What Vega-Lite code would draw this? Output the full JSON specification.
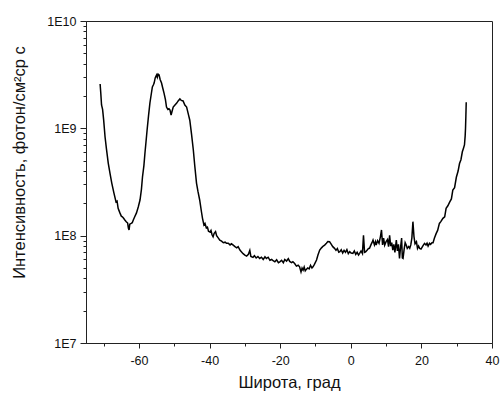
{
  "$schema": "https://vega.github.io/schema/vega-lite/v6.json",
  "width": 406,
  "height": 322,
  "autosize": {"type": "none"},
  "padding": {"left": 86, "top": 21, "right": 8, "bottom": 51},
  "background": "white",
  "config": {
    "view": {"stroke": "#222", "strokeWidth": 1},
    "font": "Liberation Sans",
    "axis": {"domainColor": "#222", "tickColor": "#222", "labelColor": "#111", "titleColor": "#111", "grid": false, "labelFont": "Liberation Sans", "titleFont": "Liberation Sans", "titleFontWeight": "normal", "labelFontSize": 12.5, "titleFontSize": 16.5}
  },
  "data": {"values": [
    {"lat": -71.0, "I": 2.59e9}, {"lat": -70.8, "I": 2.1e9}, {"lat": -70.6, "I": 1.65e9}, {"lat": -70.3, "I": 1.5e9},
    {"lat": -70.0, "I": 1.2e9}, {"lat": -69.6, "I": 8.3e8}, {"lat": -69.2, "I": 6.4e8}, {"lat": -68.7, "I": 4.75e8},
    {"lat": -68.2, "I": 3.8e8}, {"lat": -67.7, "I": 3.09e8}, {"lat": -67.1, "I": 2.5e8}, {"lat": -66.5, "I": 2.06e8},
    {"lat": -66.2, "I": 2.1e8}, {"lat": -65.9, "I": 1.8e8}, {"lat": -65.4, "I": 1.63e8}, {"lat": -65.0, "I": 1.52e8},
    {"lat": -64.7, "I": 1.5e8}, {"lat": -64.4, "I": 1.46e8}, {"lat": -64.0, "I": 1.4e8}, {"lat": -63.6, "I": 1.35e8},
    {"lat": -63.2, "I": 1.31e8}, {"lat": -63.0, "I": 1.18e8}, {"lat": -62.8, "I": 1.13e8}, {"lat": -62.6, "I": 1.28e8},
    {"lat": -62.2, "I": 1.3e8}, {"lat": -61.9, "I": 1.32e8}, {"lat": -61.6, "I": 1.4e8}, {"lat": -61.2, "I": 1.5e8},
    {"lat": -60.7, "I": 1.63e8}, {"lat": -60.2, "I": 1.85e8}, {"lat": -59.7, "I": 2.15e8}, {"lat": -59.3, "I": 2.7e8},
    {"lat": -59.0, "I": 3.52e8}, {"lat": -58.6, "I": 4.5e8}, {"lat": -58.3, "I": 5.89e8}, {"lat": -58.0, "I": 7.5e8},
    {"lat": -57.7, "I": 9.6e8}, {"lat": -57.3, "I": 1.3e9}, {"lat": -56.9, "I": 1.72e9}, {"lat": -56.5, "I": 2.1e9},
    {"lat": -56.2, "I": 2.43e9}, {"lat": -55.9, "I": 2.55e9}, {"lat": -55.7, "I": 2.64e9}, {"lat": -55.4, "I": 2.95e9},
    {"lat": -55.2, "I": 3.05e9}, {"lat": -55.0, "I": 3.14e9}, {"lat": -54.8, "I": 3.0e9}, {"lat": -54.6, "I": 3.2e9},
    {"lat": -54.3, "I": 3.14e9}, {"lat": -54.0, "I": 2.85e9}, {"lat": -53.6, "I": 2.64e9}, {"lat": -53.3, "I": 2.4e9},
    {"lat": -52.9, "I": 2.13e9}, {"lat": -52.5, "I": 1.85e9}, {"lat": -52.2, "I": 1.58e9}, {"lat": -51.8, "I": 1.5e9},
    {"lat": -51.5, "I": 1.52e9}, {"lat": -51.2, "I": 1.48e9}, {"lat": -50.9, "I": 1.33e9}, {"lat": -50.6, "I": 1.45e9},
    {"lat": -50.3, "I": 1.58e9}, {"lat": -49.8, "I": 1.65e9}, {"lat": -49.3, "I": 1.72e9}, {"lat": -48.9, "I": 1.8e9},
    {"lat": -48.4, "I": 1.88e9}, {"lat": -48.0, "I": 1.82e9}, {"lat": -47.5, "I": 1.8e9}, {"lat": -47.0, "I": 1.65e9},
    {"lat": -46.5, "I": 1.58e9}, {"lat": -46.0, "I": 1.35e9}, {"lat": -45.6, "I": 1.19e9}, {"lat": -45.1, "I": 8.8e8},
    {"lat": -44.6, "I": 6.28e8}, {"lat": -44.2, "I": 4.5e8}, {"lat": -43.7, "I": 3.09e8}, {"lat": -43.3, "I": 2.6e8},
    {"lat": -42.8, "I": 2.15e8}, {"lat": -42.6, "I": 1.95e8}, {"lat": -42.3, "I": 1.67e8}, {"lat": -42.0, "I": 1.45e8},
    {"lat": -41.6, "I": 1.26e8}, {"lat": -41.3, "I": 1.3e8}, {"lat": -40.9, "I": 1.18e8}, {"lat": -40.6, "I": 1.2e8},
    {"lat": -40.3, "I": 1.1e8}, {"lat": -39.9, "I": 1.08e8}, {"lat": -39.6, "I": 1.12e8}, {"lat": -39.3, "I": 1.02e8},
    {"lat": -39.0, "I": 9.77e7}, {"lat": -38.7, "I": 1.05e8}, {"lat": -38.3, "I": 1.09e8}, {"lat": -38.0, "I": 1.0e8},
    {"lat": -37.6, "I": 9.6e7}, {"lat": -37.1, "I": 9.1e7}, {"lat": -36.6, "I": 8.9e7}, {"lat": -36.1, "I": 8.6e7},
    {"lat": -35.6, "I": 8.7e7}, {"lat": -35.2, "I": 8.48e7}, {"lat": -34.7, "I": 8.5e7}, {"lat": -34.2, "I": 8.2e7},
    {"lat": -33.8, "I": 8.4e7}, {"lat": -33.3, "I": 8.17e7}, {"lat": -32.8, "I": 7.9e7}, {"lat": -32.3, "I": 7.7e7},
    {"lat": -31.9, "I": 7.9e7}, {"lat": -31.4, "I": 7.34e7}, {"lat": -31.0, "I": 7.1e7}, {"lat": -30.5, "I": 6.8e7},
    {"lat": -30.0, "I": 6.6e7}, {"lat": -29.5, "I": 6.46e7}, {"lat": -29.0, "I": 6.7e7}, {"lat": -28.6, "I": 7.3e7},
    {"lat": -28.3, "I": 6.4e7}, {"lat": -27.7, "I": 6.28e7}, {"lat": -27.3, "I": 6.5e7}, {"lat": -26.8, "I": 6.2e7},
    {"lat": -26.3, "I": 6.4e7}, {"lat": -25.8, "I": 6.14e7}, {"lat": -25.3, "I": 6.3e7}, {"lat": -24.8, "I": 6.0e7},
    {"lat": -24.3, "I": 6.35e7}, {"lat": -23.9, "I": 6.14e7}, {"lat": -23.4, "I": 6.3e7}, {"lat": -22.9, "I": 5.9e7},
    {"lat": -22.4, "I": 6.0e7}, {"lat": -22.0, "I": 5.84e7}, {"lat": -21.5, "I": 5.7e7}, {"lat": -21.0, "I": 5.95e7},
    {"lat": -20.5, "I": 5.6e7}, {"lat": -20.1, "I": 5.71e7}, {"lat": -19.6, "I": 5.9e7}, {"lat": -19.1, "I": 5.6e7},
    {"lat": -18.7, "I": 6.0e7}, {"lat": -18.2, "I": 5.8e7}, {"lat": -17.7, "I": 6.1e7}, {"lat": -17.3, "I": 5.75e7},
    {"lat": -16.8, "I": 5.6e7}, {"lat": -16.4, "I": 5.71e7}, {"lat": -15.9, "I": 5.5e7}, {"lat": -15.4, "I": 5.2e7},
    {"lat": -14.9, "I": 5.3e7}, {"lat": -14.5, "I": 5.13e7}, {"lat": -14.1, "I": 4.6e7}, {"lat": -13.8, "I": 5.0e7},
    {"lat": -13.5, "I": 4.78e7}, {"lat": -13.2, "I": 5.1e7}, {"lat": -12.9, "I": 4.7e7}, {"lat": -12.6, "I": 4.85e7},
    {"lat": -12.2, "I": 5.0e7}, {"lat": -11.8, "I": 4.9e7}, {"lat": -11.4, "I": 5.3e7}, {"lat": -11.0, "I": 5.0e7},
    {"lat": -10.7, "I": 5.13e7}, {"lat": -10.3, "I": 5.4e7}, {"lat": -9.7, "I": 5.93e7}, {"lat": -9.3, "I": 6.6e7},
    {"lat": -8.8, "I": 7.34e7}, {"lat": -8.3, "I": 7.7e7}, {"lat": -7.8, "I": 8.0e7}, {"lat": -7.4, "I": 8.17e7},
    {"lat": -6.9, "I": 8.5e7}, {"lat": -6.5, "I": 8.8e7}, {"lat": -6.0, "I": 8.77e7}, {"lat": -5.6, "I": 8.4e7},
    {"lat": -5.1, "I": 7.9e7}, {"lat": -4.6, "I": 7.62e7}, {"lat": -4.2, "I": 7.3e7}, {"lat": -3.8, "I": 7.6e7},
    {"lat": -3.4, "I": 7.0e7}, {"lat": -3.1, "I": 7.08e7}, {"lat": -2.7, "I": 7.4e7}, {"lat": -2.3, "I": 6.9e7},
    {"lat": -1.9, "I": 7.3e7}, {"lat": -1.5, "I": 7.0e7}, {"lat": -1.1, "I": 7.4e7}, {"lat": -0.7, "I": 6.8e7},
    {"lat": -0.3, "I": 7.1e7}, {"lat": 0.1, "I": 6.9e7}, {"lat": 0.6, "I": 6.84e7}, {"lat": 1.0, "I": 7.2e7},
    {"lat": 1.4, "I": 6.7e7}, {"lat": 1.8, "I": 7.0e7}, {"lat": 2.2, "I": 6.6e7}, {"lat": 2.5, "I": 6.84e7},
    {"lat": 2.9, "I": 7.2e7}, {"lat": 3.3, "I": 6.8e7}, {"lat": 3.6, "I": 1.01e8}, {"lat": 3.9, "I": 7.0e7},
    {"lat": 4.2, "I": 7.08e7}, {"lat": 4.6, "I": 7.3e7}, {"lat": 5.0, "I": 7.6e7}, {"lat": 5.3, "I": 7.62e7},
    {"lat": 5.7, "I": 8.2e7}, {"lat": 6.0, "I": 8.6e7}, {"lat": 6.3, "I": 9.1e7}, {"lat": 6.7, "I": 8.2e7},
    {"lat": 7.0, "I": 8.8e7}, {"lat": 7.2, "I": 8.17e7}, {"lat": 7.6, "I": 9.0e7}, {"lat": 8.0, "I": 8.5e7},
    {"lat": 8.4, "I": 9.8e7}, {"lat": 8.7, "I": 1.13e8}, {"lat": 9.0, "I": 8.2e7}, {"lat": 9.3, "I": 9.5e7},
    {"lat": 9.6, "I": 8.17e7}, {"lat": 10.0, "I": 8.8e7}, {"lat": 10.4, "I": 9.2e7}, {"lat": 10.7, "I": 7.9e7},
    {"lat": 11.0, "I": 1.01e8}, {"lat": 11.3, "I": 8.0e7}, {"lat": 11.6, "I": 8.6e7}, {"lat": 11.9, "I": 7.34e7},
    {"lat": 12.2, "I": 8.3e7}, {"lat": 12.5, "I": 7.0e7}, {"lat": 12.9, "I": 9.1e7}, {"lat": 13.2, "I": 7.2e7},
    {"lat": 13.5, "I": 8.3e7}, {"lat": 13.8, "I": 6.14e7}, {"lat": 14.1, "I": 7.8e7}, {"lat": 14.4, "I": 9.5e7},
    {"lat": 14.6, "I": 6.2e7}, {"lat": 14.8, "I": 6.14e7}, {"lat": 15.1, "I": 7.4e7}, {"lat": 15.4, "I": 8.6e7},
    {"lat": 15.7, "I": 8.17e7}, {"lat": 16.0, "I": 7.6e7}, {"lat": 16.4, "I": 7.9e7}, {"lat": 16.7, "I": 7.62e7},
    {"lat": 17.0, "I": 8.2e7}, {"lat": 17.3, "I": 9.5e7}, {"lat": 17.6, "I": 1.35e8}, {"lat": 17.9, "I": 9.8e7},
    {"lat": 18.2, "I": 8.4e7}, {"lat": 18.6, "I": 8.77e7}, {"lat": 18.9, "I": 7.6e7}, {"lat": 19.2, "I": 8.0e7},
    {"lat": 19.5, "I": 7.62e7}, {"lat": 19.9, "I": 7.5e7}, {"lat": 20.3, "I": 7.9e7}, {"lat": 20.6, "I": 8.2e7},
    {"lat": 20.9, "I": 8.48e7}, {"lat": 21.3, "I": 8.2e7}, {"lat": 21.6, "I": 8.5e7}, {"lat": 21.9, "I": 8.0e7},
    {"lat": 22.3, "I": 8.48e7}, {"lat": 22.6, "I": 8.3e7}, {"lat": 23.0, "I": 8.6e7}, {"lat": 23.3, "I": 8.6e7},
    {"lat": 23.7, "I": 9.5e7}, {"lat": 24.2, "I": 1.05e8}, {"lat": 24.6, "I": 1.12e8}, {"lat": 25.1, "I": 1.3e8},
    {"lat": 25.5, "I": 1.35e8}, {"lat": 26.1, "I": 1.45e8}, {"lat": 26.6, "I": 1.5e8}, {"lat": 27.0, "I": 1.8e8},
    {"lat": 27.5, "I": 1.9e8}, {"lat": 28.0, "I": 2.05e8}, {"lat": 28.5, "I": 2.2e8}, {"lat": 28.9, "I": 2.66e8},
    {"lat": 29.4, "I": 2.8e8}, {"lat": 29.9, "I": 3.5e8}, {"lat": 30.4, "I": 4.0e8}, {"lat": 30.8, "I": 4.7e8},
    {"lat": 31.2, "I": 5.1e8}, {"lat": 31.6, "I": 6.05e8}, {"lat": 31.9, "I": 6.5e8}, {"lat": 32.2, "I": 7.0e8},
    {"lat": 32.4, "I": 8.5e8}, {"lat": 32.5, "I": 1.0e9}, {"lat": 32.6, "I": 1.3e9}, {"lat": 32.7, "I": 1.75e9}
  ]},
  "mark": {"type": "line", "color": "black", "strokeWidth": 1.5, "interpolate": "linear"},
  "encoding": {
    "x": {
      "field": "lat", "type": "quantitative",
      "scale": {"domain": [-75, 40], "nice": false, "zero": false},
      "axis": {
        "title": "Широта, град",
        "values": [-70, -60, -50, -40, -30, -20, -10, 0, 10, 20, 30, 40],
        "labelExpr": "datum.value % 20 == 0 ? toString(datum.value) : ''",
        "tickSize": {"condition": {"test": "datum.value % 20 == 0", "value": 5}, "value": 3},
        "labelPadding": 6,
        "titlePadding": 8,
        "labelFlush": false,
        "labelOverlap": false
      }
    },
    "y": {
      "field": "I", "type": "quantitative",
      "scale": {"type": "log", "domain": [1e7, 1e10], "nice": false},
      "axis": {
        "title": "Интенсивность, фотон/см²ср с",
        "values": [1e7, 2e7, 3e7, 4e7, 5e7, 6e7, 7e7, 8e7, 9e7, 1e8, 2e8, 3e8, 4e8, 5e8, 6e8, 7e8, 8e8, 9e8, 1e9, 2e9, 3e9, 4e9, 5e9, 6e9, 7e9, 8e9, 9e9, 1e10],
        "labelExpr": "abs(log(datum.value)/LN10 - round(log(datum.value)/LN10)) < 0.001 ? '1E' + round(log(datum.value)/LN10) : ''",
        "tickSize": {"condition": {"test": "abs(log(datum.value)/LN10 - round(log(datum.value)/LN10)) < 0.001", "value": 6}, "value": 3},
        "labelPadding": 4,
        "titleX": -67,
        "titleY": 141,
        "titleAngle": -90,
        "titleAlign": "center",
        "titleBaseline": "middle",
        "labelFlush": false,
        "labelOverlap": false
      }
    }
  }
}
